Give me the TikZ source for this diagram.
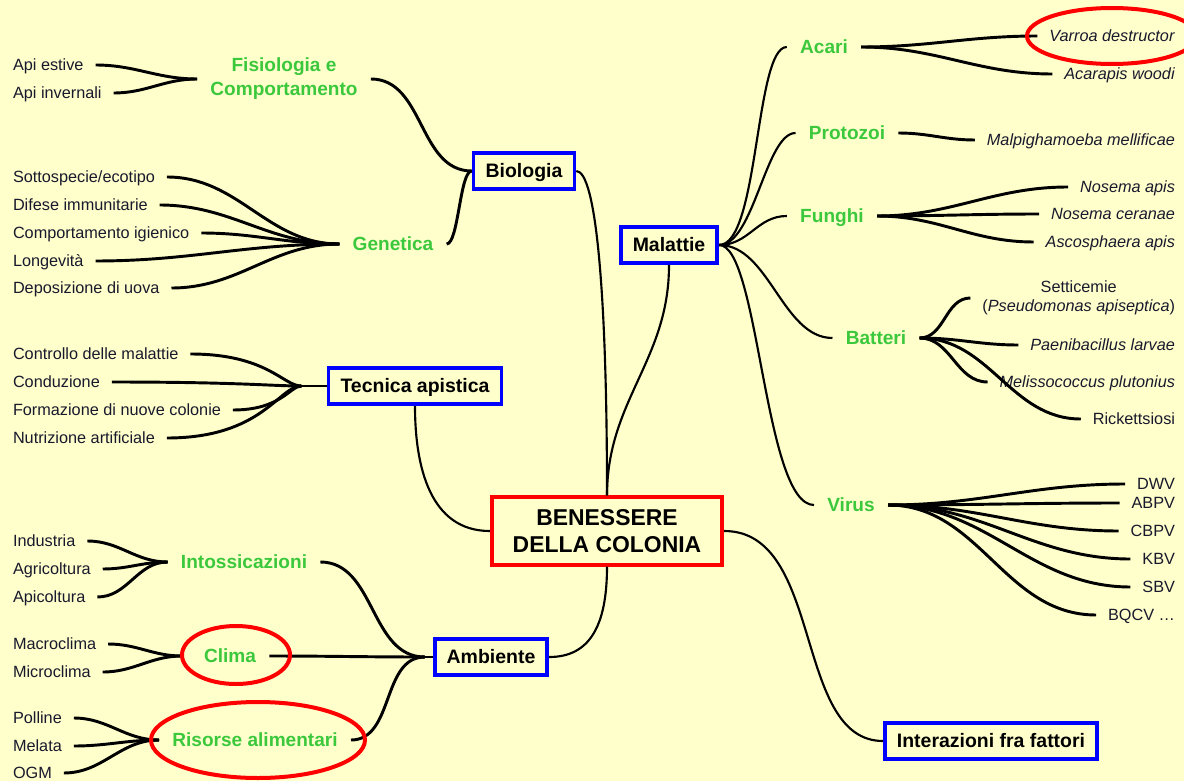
\documentclass[tikz,border=0pt]{standalone}
\usepackage{fontspec}
\setmainfont{Liberation Sans}

\definecolor{paper}{RGB}{255,255,204}
\definecolor{topicgreen}{RGB}{60,200,60}
\definecolor{ink}{RGB}{25,25,45}

\def\leftx{1}      % left leaves: text starts 12px further right
\def\rightx{1187}  % right leaves: text ends 12px further left

\tikzset{
  leaf/.style={inner xsep=0pt, inner ysep=0pt, outer xsep=9pt,
    text height=8.7pt, text depth=0pt},
  topic/.style={font=\fontsize{14.3}{18}\selectfont\bfseries, text=topicgreen,
    align=center, inner sep=0pt, outer xsep=10pt},
  groupbox/.style={draw=blue, line width=2.8pt, text=black,
    font=\fontsize{14.6}{17}\selectfont\bfseries, inner xsep=9pt,
    minimum height=27.5pt, text height=10.4pt, text depth=0pt},
  corebox/.style={draw=red, line width=2.8pt, text=black, align=center,
    font=\fontsize{17.2}{20}\selectfont\bfseries,
    minimum width=173pt, minimum height=50.5pt},
  twig/.style={line width=2.2pt},
  bough/.style={line width=1.6pt},
  ring/.style={draw=red, line width=3pt}
}

\begin{document}
\begin{tikzpicture}[x=0.75pt, y=-0.75pt,
    nodes={font=\fontsize{12.2}{14}\selectfont, text=ink}]
  \useasboundingbox (0,0) rectangle (1184,781);
  \fill[paper] (0,0) rectangle (1184,781);

  % main boxes
  \node[corebox]  (core)  at (607,531) {BENESSERE\\DELLA COLONIA};
  \node[groupbox] (bio)   at (524,171) {Biologia};
  \node[groupbox] (mal)   at (669,245) {Malattie};
  \node[groupbox] (tec)   at (415,386) {Tecnica apistica};
  \node[groupbox] (amb)   at (491,657) {Ambiente};
  \node[groupbox] (inter) at (991,741) {Interazioni fra fattori};

  % green topics
  \node[topic] (fis) at (284,79) {Fisiologia e\\Comportamento};
  \foreach \nm/\txt/\xx/\yy in {
      gen/Genetica/393/244,
      intox/Intossicazioni/244/562,
      clima/Clima/230/656,
      risorse/Risorse alimentari/255/740,
      acari/Acari/824/47,
      proto/Protozoi/847/133,
      funghi/Funghi/832/216,
      batteri/Batteri/876/338,
      virus/Virus/851/505} {
      \node[topic, text height=10.3pt, text depth=0pt] (\nm) at (\xx,\yy) {\txt};
    };

  % hubs where the fans meet
  \coordinate (fisH)   at (fis.west);
  \coordinate (genH)   at (gen.west);
  \coordinate (tecH)   at ([xshift=-19pt]tec.west);  % fan meets before the box
  \coordinate (intoxH) at (intox.west);
  \coordinate (climaH) at (182,656);                 % edge of the ring
  \coordinate (risH)   at (risorse.west);
  \coordinate (ambH)   at ([xshift=-6pt]amb.west);
  \coordinate (acariH) at (acari.east);
  \coordinate (protoH) at (proto.east);
  \coordinate (fungH)  at (funghi.east);
  \coordinate (battH)  at (batteri.east);
  \coordinate (virusH) at (virus.east);

  % left leaves
  \foreach \nm/\txt/\yy/\hub in {
      ae/Api estive/65/fisH,
      ai/Api invernali/93/fisH,
      sott/{Sottospecie/ecotipo}/177/genH,
      dif/Difese immunitarie/205/genH,
      comp/Comportamento igienico/233/genH,
      longev/Longevità/261/genH,
      depo/Deposizione di uova/288/genH,
      ind/Industria/541/intoxH,
      agr/Agricoltura/569/intoxH,
      apic/Apicoltura/597/intoxH,
      macro/Macroclima/644/climaH,
      micro/Microclima/672/climaH,
      poll/Polline/718/risH,
      mel/Melata/746/risH,
      ogm/OGM/773/risH} {
      \node[leaf, anchor=west] (\nm) at (\leftx,\yy) {\txt};
      \draw[twig] (\nm.east) to[out=0,in=180] (\hub);
    };
  \foreach \nm/\txt/\yy in {                 % this fan bends near its hub
      ctrl/Controllo delle malattie/354,
      cond/Conduzione/382,
      form/Formazione di nuove colonie/410,
      nutr/Nutrizione artificiale/438} {
      \node[leaf, anchor=west] (\nm) at (\leftx,\yy) {\txt};
      \draw[twig] (\nm.east) to[out=0,in=180,out looseness=1.7,in looseness=0.4] (tecH);
    };

  % right leaves
  \foreach \nm/\txt/\yy/\hub in {
      varroa/\textit{Varroa destructor}/36/acariH,
      acarapis/\textit{Acarapis woodi}/74/acariH,
      malpi/\textit{Malpighamoeba mellificae}/140/protoH,
      napis/\textit{Nosema apis}/187/fungH,
      ncer/\textit{Nosema ceranae}/214/fungH,
      asco/\textit{Ascosphaera apis}/242/fungH,
      paeni/\textit{Paenibacillus larvae}/345/battH,
      meli/\textit{Melissococcus plutonius}/382/battH,
      rick/Rickettsiosi/419/battH,
      dwv/DWV/484/virusH,
      abpv/ABPV/503/virusH,
      cbpv/CBPV/531/virusH,
      kbv/KBV/559/virusH,
      sbv/SBV/587/virusH,
      bqcv/{BQCV …}/615/virusH} {
      \node[leaf, anchor=east] (\nm) at (\rightx,\yy) {\txt};
      \draw[twig] (\hub) to[out=0,in=180] (\nm.west);
    };
  \node[inner sep=0pt, outer xsep=9pt, align=center, anchor=east] (sett)
    at (\rightx,298) {Setticemie\\(\textit{Pseudomonas apiseptica})};
  \draw[twig] (battH) to[out=0,in=180] (sett.west);

  % topics into their boxes
  \draw[twig] (fis.east) to[out=0,in=180] (bio.west);
  \draw[twig] (gen.east) .. controls +(12,0) and +(-12,0) .. (bio.west);
  \draw[twig] (tecH) -- (tec.west);
  \foreach \src in {intox, clima, risorse}
    \draw[twig] (\src.east) to[out=0,in=180] (ambH);
  \draw[twig] (ambH) -- (amb.west);
  \foreach \tgt/\a/\b in {acari/40/32, proto/35/30, funghi/30/30,
                          batteri/50/50, virus/40/50}
    \draw[bough] (mal.east) .. controls +(\a,0) and +(-\b,0) .. (\tgt.west);

  % boxes into the centre
  \draw[bough] (bio.east) .. controls +(20,0) and +(0,-200) .. (core.north);
  \draw[bough] (mal.south) .. controls +(0,95) and +(0,-95) .. (core.north);
  \draw[bough] (tec.south) .. controls +(0,60) and +(-60,0) .. (core.west);
  \draw[bough] (core.south) .. controls +(0,60) and +(40,0) .. (amb.east);
  \draw[bough] (core.east) .. controls +(100,0) and +(-90,0) .. (inter.west);

  % red rings
  \draw[ring] (236,655) ellipse [x radius=40.5pt, y radius=21.75pt];
  \draw[ring] (258,740) ellipse [x radius=80.25pt, y radius=28.5pt];
  \draw[ring] (1112,36) ellipse [x radius=63.75pt, y radius=21pt];
\end{tikzpicture}
\end{document}
